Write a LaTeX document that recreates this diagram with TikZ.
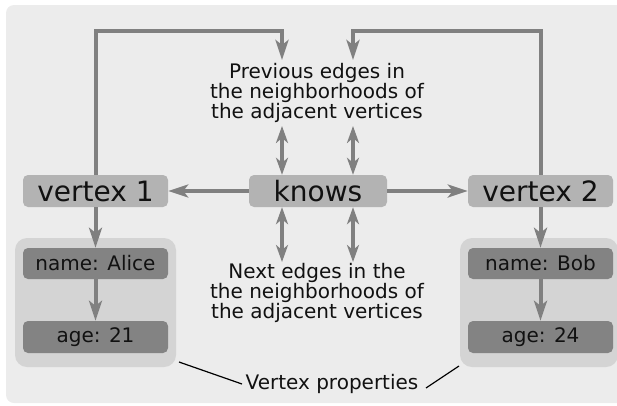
\documentclass[tikz,border=0pt]{standalone}
\usepackage{fontspec}
\setmainfont{DejaVu Sans}
\usetikzlibrary{arrows.meta}
\definecolor{bgc}{HTML}{ECECEC}
\definecolor{contc}{HTML}{D4D4D4}
\definecolor{vboxc}{HTML}{B3B3B3}
\definecolor{pboxc}{HTML}{838383}
\definecolor{arrc}{HTML}{808080}
\definecolor{txtc}{HTML}{111111}
\tikzset{
  vbox/.style={fill=vboxc, rounded corners=5pt, minimum width=145pt, minimum height=32pt, inner sep=0pt, text=txtc, font=\fontsize{28}{28}\selectfont},
  pbox/.style={fill=pboxc, rounded corners=5pt, minimum width=145pt, minimum height=31pt, inner sep=0pt, text=txtc, font=\fontsize{20}{20}\selectfont},
  cont/.style={fill=contc, rounded corners=12pt, inner sep=0pt},
  conn/.style={draw=arrc, line width=4pt, -{Stealth[length=20pt, width=13pt, inset=5pt]}},
  dconn/.style={draw=arrc, line width=4pt, {Stealth[length=17pt, width=12pt, inset=5pt]}-{Stealth[length=17pt, width=12pt, inset=5pt]}},
  lbl/.style={align=center, text=txtc, font=\fontsize{20}{20}\selectfont, inner sep=0pt},
  pline/.style={draw=black, line width=1.2pt}
}
\begin{document}
\begin{tikzpicture}[x=1pt, y=-1pt]
\useasboundingbox (0,0) rectangle (617,405);
\fill[bgc, rounded corners=8pt] (6,5) rectangle (630,403);
% containers
\node[cont, minimum width=161pt, minimum height=129pt] (c1) at (95.5,302.5) {};
\node[cont, minimum width=158pt, minimum height=129pt] (c2) at (539,302.5) {};
% boxes
\node[vbox] (v1) at (95.5,191) {vertex 1};
\node[vbox, minimum width=138pt] (kn) at (318,191) {knows};
\node[vbox] (v2) at (540.5,191) {vertex 2};
\node[pbox] (n1) at (95.5,263.5) {name: Alice};
\node[pbox, minimum height=32pt] (a1) at (95.5,337) {age: 21};
\node[pbox] (n2) at (540.5,263.5) {name: Bob};
\node[pbox, minimum height=32pt] (a2) at (540.5,337) {age: 24};
% texts
\node[lbl] (prev) at (317,93) {Previous edges in\\the neighborhoods of\\the adjacent vertices};
\node[lbl] (next) at (317,293) {Next edges in the\\the neighborhoods of\\the adjacent vertices};
\node[lbl] (vp) at (332,384) {Vertex properties};
% coordinates
\coordinate (pt1) at (282,60);
\coordinate (pt2) at (353,60);
\coordinate (pu1) at (282,126);
\coordinate (pu2) at (353,126);
\coordinate (pd1) at (282,262);
\coordinate (pd2) at (353,262);
\coordinate (l1a) at (179,362);
\coordinate (l1b) at (242,384);
\coordinate (l2a) at (459,366);
\coordinate (l2b) at (426,388);
% connectors
\draw[conn] (v1.north) |- (282,31) -- (pt1);
\draw[conn] (v2.north) |- (353,31) -- (pt2);
\draw[conn] (kn.west) -- (v1.east);
\draw[conn] (kn.east) -- (v2.east -| v2.west);
\draw[conn] (v1.south) -- (n1.north);
\draw[conn] (n1.south) -- (a1.north);
\draw[conn] (v2.south) -- (n2.north);
\draw[conn] (n2.south) -- (a2.north);
\draw[dconn] (pu1) -- (pu1 |- kn.north);
\draw[dconn] (pu2) -- (pu2 |- kn.north);
\draw[dconn] (pu1 |- kn.south) -- (pd1);
\draw[dconn] (pu2 |- kn.south) -- (pd2);
\draw[pline] (l1a) -- (l1b);
\draw[pline] (l2a) -- (l2b);
\end{tikzpicture}
\end{document}
